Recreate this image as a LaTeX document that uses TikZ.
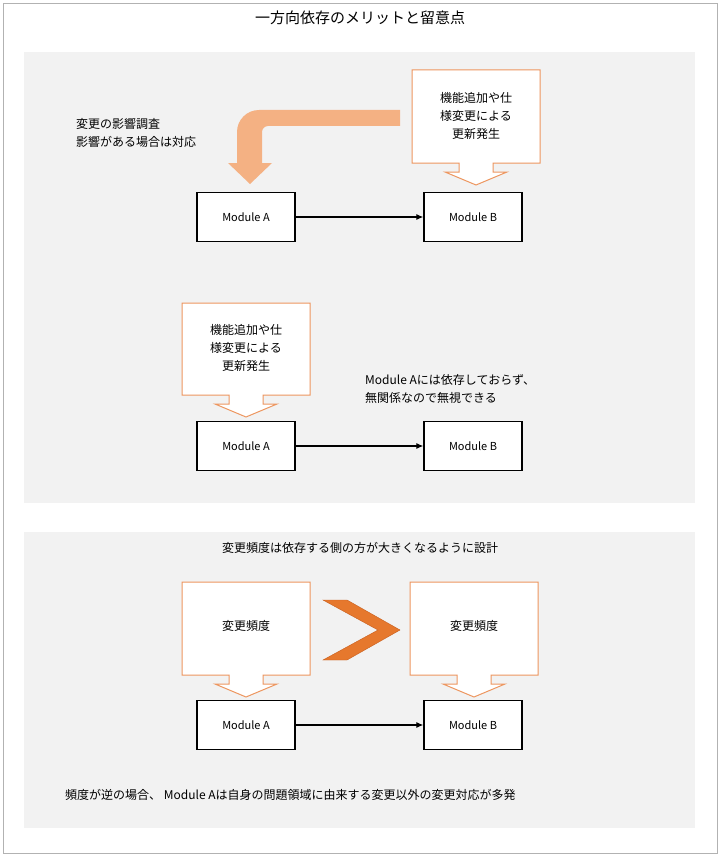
\documentclass[tikz,border=0pt]{standalone}
\usepackage{fontspec}
\setmainfont{Noto Sans CJK JP}
\usetikzlibrary{arrows.meta}
\definecolor{panelgray}{RGB}{242,242,242}
\definecolor{calloutline}{RGB}{237,150,95}
\definecolor{bendfill}{RGB}{244,177,131}
\definecolor{chevfill}{RGB}{230,120,45}
\definecolor{chevline}{RGB}{200,95,30}
\tikzset{
  module/.style={draw=black, line width=1.4pt, fill=white, minimum width=98pt, minimum height=49pt, font=\fontsize{11}{13}\selectfont},
  note/.style={font=\fontsize{12}{18}\selectfont, align=left, inner sep=0pt},
  dep/.style={-{Latex[length=7pt,width=6pt]}, line width=1.1pt},
}
% callout box: top-left x, top y, bottom y
\newcommand\calloutbox[3]{%
  \draw[calloutline, fill=white, line width=1pt]
    (#1,#2) -- (#1+128,#2) -- (#1+128,#3) -- (#1+81,#3) -- (#1+81,#3+9)
    -- (#1+95,#3+9) -- (#1+64,#3+22) -- (#1+33,#3+9) -- (#1+47,#3+9)
    -- (#1+47,#3) -- (#1,#3) -- cycle;}
\begin{document}
\begin{tikzpicture}[x=1pt,y=-1pt]
    \useasboundingbox (0,0) rectangle (720,856);
    \draw[gray!60] (3,3) rectangle (717,853);
    \node[font=\fontsize{15}{17}\selectfont] (title) at (360,18) {一方向依存のメリットと留意点};

    \fill[panelgray] (24,52) rectangle (695,503);
    \fill[panelgray] (24,532) rectangle (695,828);

    % upper case
    \calloutbox{412}{70}{163}
    \node[note, align=center] (upd1) at (476,116) {機能追加や仕\\様変更による\\更新発生};
    \fill[bendfill] (400,110) [rounded corners=22] -- (237,110) [rounded corners=0] -- (237,163)
      -- (228,163) -- (250,184) -- (272,163) -- (262,163) [rounded corners=6] -- (262,126)
      [rounded corners=0] -- (400,126) -- cycle;
    \node[note, anchor=west] (impact) at (76,133) {変更の影響調査\\影響がある場合は対応};
    \node[module] (a1) at (246,217) {Module A};
    \node[module] (b1) at (473,217) {Module B};
    \draw[dep] (a1) -- (b1);

    % middle case
    \calloutbox{182}{303}{395}
    \node[note, align=center] (upd2) at (246,348) {機能追加や仕\\様変更による\\更新発生};
    \node[note, anchor=west] (ignore) at (365,389) {Module Aには依存しておらず、\\無関係なので無視できる};
    \node[module] (a2) at (246,446) {Module A};
    \node[module] (b2) at (473,446) {Module B};
    \draw[dep] (a2) -- (b2);

    % frequency
    \node[note] (design) at (360,548) {変更頻度は依存する側の方が大きくなるように設計};
    \calloutbox{182}{582}{675}
    \calloutbox{410}{582}{675}
    \node[note] (freqa) at (246,626) {変更頻度};
    \node[note] (freqb) at (474,626) {変更頻度};
    \draw[chevline, fill=chevfill, line join=miter] (323,600) -- (347,600) -- (400,630) -- (347,660)
      -- (323,660) -- (378,630) -- cycle;
    \node[module] (a3) at (246,725) {Module A};
    \node[module] (b3) at (473,725) {Module B};
    \draw[dep] (a3) -- (b3);
    \node[note, anchor=west] (reverse) at (65,795) {頻度が逆の場合、 Module Aは自身の問題領域に由来する変更以外の変更対応が多発};
\end{tikzpicture}
\end{document}
